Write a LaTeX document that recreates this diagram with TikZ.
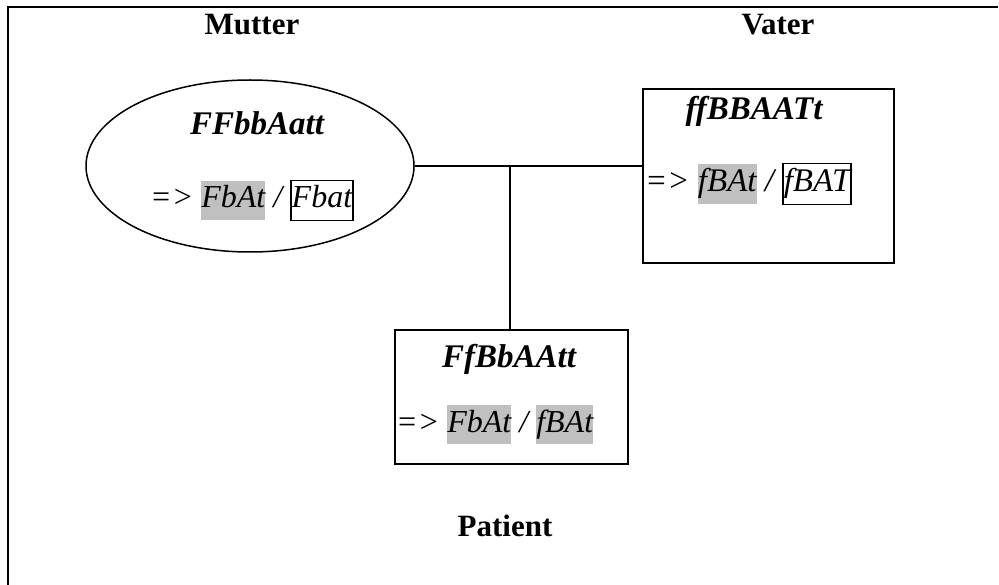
\documentclass[tikz,border=0pt]{standalone}
\usepackage{fontspec}
\setmainfont{Liberation Serif}
\usetikzlibrary{shapes.geometric}
\definecolor{hl}{RGB}{192,192,192}
\newcommand{\hlbox}[1]{{\setlength{\fboxsep}{0pt}\colorbox{hl}{\strut #1}}}
\newcommand{\frbox}[1]{{\setlength{\fboxsep}{0pt}\setlength{\fboxrule}{1.5pt}\fbox{\strut #1}}}
\begin{document}
\begin{tikzpicture}[x=1pt,y=-1pt,
  label/.style={inner sep=0pt,anchor=base,font=\fontsize{31}{37}\selectfont\bfseries},
  geno/.style={inner sep=0pt,anchor=base,font=\fontsize{33}{40}\selectfont\bfseries\itshape},
  gamete/.style={inner sep=0pt,anchor=base west,font=\fontsize{32}{38.4}\selectfont\itshape},
  frame/.style={draw,line width=1.5pt}]
\useasboundingbox (0,0) rectangle (999,585);
\draw[line width=2pt] (8,585) -- (8,7) -- (998,7);
\node[frame,ellipse,minimum width=328pt,minimum height=172pt,inner sep=0pt] (mother) at (250,166) {};
\node[frame,rectangle,minimum width=251pt,minimum height=174pt,inner sep=0pt] (father) at (768.5,176) {};
\node[frame,rectangle,minimum width=233pt,minimum height=134pt,inner sep=0pt] (patient) at (511.5,397) {};
\node[label] (lm) at (252,35) {Mutter};
\node[label] (lv) at (778,35) {Vater};
\node[label] (lp) at (505,536) {Patient};
\node[geno] (gm) at (257,135) {FFbbAatt};
\node[geno] (gv) at (754,120) {ffBBAATt};
\node[geno] (gp) at (509,367) {FfBbAAtt};
\node[gamete] (tm) at (150,208) {=> \hlbox{FbAt} / \frbox{Fbat}};
\node[gamete,font=\fontsize{33}{39.6}\selectfont\itshape] (tv) at (645,192) {=> \hlbox{fBAt} / \frbox{fBAT}};
\node[gamete] (tp) at (396,432) {=> \hlbox{FbAt} / \hlbox{fBAt}};
\draw[line width=1.2pt] (mother.east) -- (mother.east -| father.west);
\coordinate (j) at (510,166);
\draw[line width=1.2pt] (j) -- (j |- patient.north);
\end{tikzpicture}
\end{document}
